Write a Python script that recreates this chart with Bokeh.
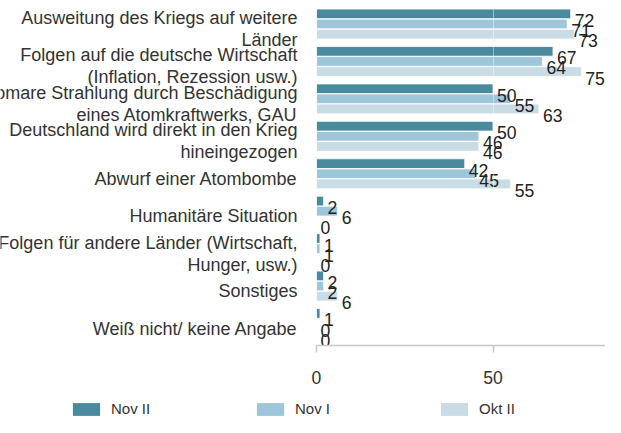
import numpy as np
from bokeh.plotting import figure
from bokeh.layouts import column
from bokeh.models import (ColumnDataSource, Range1d, FixedTicker, Legend, LegendItem)
from bokeh.transform import dodge
from bokeh.core.properties import value
from bokeh.embed import file_html
from bokeh.resources import INLINE

categories = [
    "Ausweitung des Kriegs auf weitere\nLänder",
    "Folgen auf die deutsche Wirtschaft\n(Inflation, Rezession usw.)",
    "Atomare Strahlung durch Beschädigung\neines Atomkraftwerks, GAU",
    "Deutschland wird direkt in den Krieg\nhineingezogen",
    "Abwurf einer Atombombe",
    "Humanitäre Situation",
    "Folgen für andere Länder (Wirtschaft,\nHunger, usw.)",
    "Sonstiges",
    "Weiß nicht/ keine Angabe",
]
series_names = ["Nov II", "Nov I", "Okt II"]
nov2 = [72, 67, 50, 50, 42, 2, 1, 2, 1]
nov1 = [71, 64, 55, 46, 45, 6, 1, 2, 0]
okt2 = [73, 75, 63, 46, 55, 0, 0, 6, 0]
x_ticks = [0, 50, 100]

colors = ["#4A8A9E", "#9DC6DA", "#C9DBE5"]
FONT = "Liberation Sans"

pos = np.arange(len(categories))
src = ColumnDataSource(dict(
    pos=pos, cat=categories,
    nov2=nov2, nov1=nov1, okt2=okt2,
    nov2_t=[str(v) for v in nov2],
    nov1_t=[str(v) for v in nov1],
    okt2_t=[str(v) for v in okt2],
))

W = 605
H1 = 395
H2 = 22
px_per_unit = 3.53
zero_px = 316            # frame x of value 0
step_px = 37.44          # pixels per category
frame_h = 345

x_start = -zero_px / px_per_unit
x_end = (W - zero_px) / px_per_unit
y_top = -23.5 / step_px
y_bottom = y_top + frame_h / step_px

p = figure(width=W, height=H1, output_backend="svg", toolbar_location=None,
           x_range=Range1d(x_start, x_end), y_range=Range1d(y_bottom, y_top),
           y_axis_location=None, min_border_left=0, min_border_right=0,
           min_border_top=0, min_border_bottom=H1 - frame_h)
p.outline_line_color = None
p.background_fill_color = "white"
p.border_fill_color = "white"
p.ygrid.visible = False

off = 0.27
bar_h = 0.26
cols = ["nov2", "nov1", "okt2"]
for i, (c, col) in enumerate(zip(cols, colors)):
    p.hbar(y=dodge("pos", (i - 1) * off, range=p.y_range), left=0, right=c,
           height=bar_h, source=src, fill_color=col, line_color="white",
           line_width=0.8)

for i, c in enumerate(cols):
    p.text(x=c, y=dodge("pos", (i - 1) * off, range=p.y_range), text=c + "_t",
           source=src, x_offset=4, y_offset=6.5, text_align="left",
           text_baseline="middle", text_font=value(FONT),
           text_font_size="17.6px", text_color="#222222")

p.text(x=0, y="pos", text="cat", source=src, x_offset=-19, y_offset=5,
       text_align="right", text_baseline="middle", text_font=value(FONT),
       text_font_size="18px", text_color="#333333", text_line_height=1.1)

ax = p.xaxis[0]
ax.ticker = FixedTicker(ticks=x_ticks)
ax.bounds = (0, 100)
ax.axis_line_color = "#C8C8C8"
ax.axis_line_width = 1.5
ax.major_tick_line_color = "#C8C8C8"
ax.major_tick_line_width = 1.5
ax.major_tick_in = 0
ax.major_tick_out = 7
ax.minor_tick_line_color = None
ax.major_label_standoff = 18
ax.major_label_text_font = FONT
ax.major_label_text_font_size = "17.6px"
ax.major_label_text_color = "#333333"

g = p.xgrid[0]
g.ticker = FixedTicker(ticks=[50])
g.grid_line_color = "white"
g.grid_line_alpha = 0.45
g.level = "overlay"

# legend strip below the chart
q = figure(width=W, height=H2, output_backend="svg", toolbar_location=None,
           x_range=Range1d(0, 1), y_range=Range1d(0, 1),
           x_axis_location=None, y_axis_location=None,
           min_border_left=0, min_border_right=0, min_border_top=0, min_border_bottom=0)
q.outline_line_color = None
q.xgrid.visible = False
q.ygrid.visible = False
leg_renderers = []
for c, col in zip(cols, colors):
    r = q.hbar(y="pos", left=0, right=c, height=bar_h, source=src,
               fill_color=col, line_color=None, visible=False)
    leg_renderers.append(r)

legend = Legend(items=[LegendItem(label=n, renderers=[r]) for n, r in zip(series_names, leg_renderers)],
                orientation="horizontal", location=(69, 0),
                glyph_width=34, glyph_height=16, label_standoff=8, label_width=126,
                label_height=16, spacing=16, padding=0, margin=0,
                border_line_color=None, background_fill_alpha=0,
                inactive_fill_alpha=0,
                label_text_font=FONT, label_text_font_size="15px",
                label_text_color="#333333", label_text_baseline="middle")
q.add_layout(legend, "center")

layout = column(p, q, spacing=0)
open("out.html", "w").write(file_html(layout, INLINE))
